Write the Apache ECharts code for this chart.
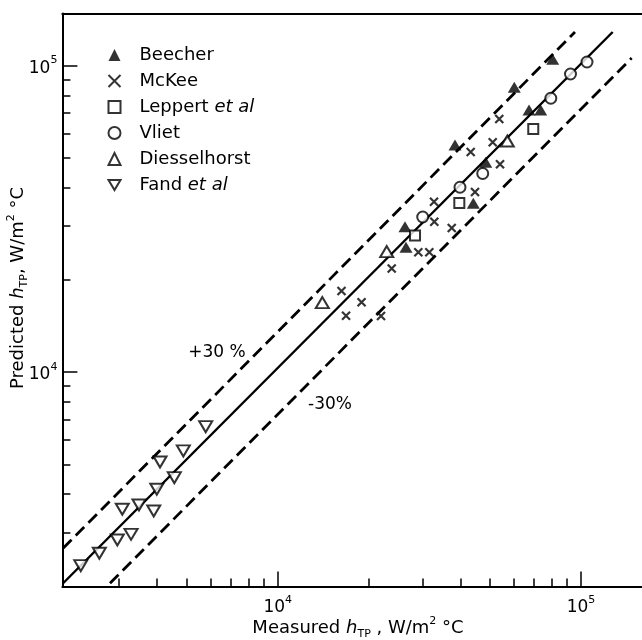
<!DOCTYPE html>
<html><head><meta charset="utf-8">
<script src="https://cdn.jsdelivr.net/npm/echarts@6/dist/echarts.min.js"></script>
<style>html,body{margin:0;padding:0;background:#fff}#c{width:642px;height:640px}</style>
</head><body><div id="c"></div>
<script>
// ---- axis ranges and ticks ----
const xRange = [1950, 160000];
const yRange = [2000, 148000];
const minorTicks = [3000,4000,5000,6000,7000,8000,9000,20000,30000,40000,50000,60000,70000,80000,90000];
const majorTicks = [10000, 100000];

// ---- data: [measured, predicted] in W/m2 °C ----
const beecher = [[80650,104900],[60260,85030],[67400,71730],[73640,71730],[38420,55120],[48520,48400],[44150,35570],[26280,29830],[26480,25560]];
const mckee = [[53770,67010],[43280,52290],[51160,56250],[54080,47720],[44720,38720],[32760,36000],[32830,30970],[37480,29540],[29080,24620],[31610,24620],[23760,21780],[16230,18400],[18900,16900],[16800,15290],[21910,15260]];
const leppert = [[69600,62170],[39700,35650],[28360,27920]];
const vliet = [[104660,102800],[92340,93950],[79520,78290],[47420,44490],[39900,40120],[30070,32090]];
const diesselhorst = [[14030,16860],[22880,24730],[57150,56800]];
const fand = [[2242,2337],[2581,2566],[2959,2835],[3284,2958],[3073,3570],[3488,3687],[3901,3525],[3993,4149],[4092,5093],[4561,4528],[4884,5533],[5788,6640]];

// reference lines (end points)
const lineEqual = [[1960,2048],[127200,128800]];
const linePlus30 = [[1960,2663],[95540,128800]];
const lineMinus30 = [[2799,2048],[146900,105900]];

const seriesNames = ['Beecher','McKee','Leppert et al','Vliet','Diesselhorst','Fand et al'];

const FONT = '"DejaVu Sans", sans-serif';
const chart = echarts.init(document.getElementById('c'), null, {renderer:'canvas'});

const expRich = {
  b:{fontSize:17,fontFamily:FONT,color:'#000',lineHeight:22,verticalAlign:'bottom'},
  s:{fontSize:11,fontFamily:FONT,color:'#000',lineHeight:11,verticalAlign:'top'}
};
const expFmt = v => '{b|10}{s|' + Math.round(Math.log10(v)) + '}';

function logAxis(extra, range){
  return Object.assign({
    type:'log', logBase:10, min:range[0], max:range[1], gridIndex:0,
    splitLine:{show:false}, minorSplitLine:{show:false},
    axisLine:{show:false}, axisTick:{show:false}, axisLabel:{show:false}
  }, extra);
}
const black = '#000';

const xAxes = [
  logAxis({position:'bottom', axisLine:{show:true,onZero:false,lineStyle:{color:black,width:2}},
    axisTick:{show:true,inside:true,length:8,customValues:minorTicks,lineStyle:{color:black,width:1.5}}}, xRange),
  logAxis({position:'bottom',
    axisTick:{show:true,inside:true,length:15,customValues:majorTicks,lineStyle:{color:black,width:1.5}},
    axisLabel:{show:true,customValues:majorTicks,margin:8,formatter:expFmt,rich:expRich}}, xRange),
  logAxis({position:'top', axisLine:{show:true,onZero:false,lineStyle:{color:black,width:2}}}, xRange)
];
const yAxes = [
  logAxis({position:'left', axisLine:{show:true,onZero:false,lineStyle:{color:black,width:2}},
    axisTick:{show:true,inside:true,length:8,customValues:minorTicks,lineStyle:{color:black,width:1.5}}}, yRange),
  logAxis({position:'left',
    axisTick:{show:true,inside:true,length:15,customValues:majorTicks,lineStyle:{color:black,width:1.5}},
    axisLabel:{show:true,customValues:majorTicks,margin:5,formatter:expFmt,rich:expRich}}, yRange)
];

function refLine(data, dashed){
  return {type:'line', data:data, xAxisIndex:0, yAxisIndex:0, symbol:'none', silent:true, z:2,
    lineStyle:{color:black, width:dashed?2.8:2.4, type:dashed?[12,6]:'solid', cap:'butt'}};
}
const openStyle = {color:'#fff', borderColor:black, borderWidth:2};
function scatter(name, data, symbol, size, style){
  return {type:'scatter', name:name, data:data, xAxisIndex:0, yAxisIndex:0, symbol:symbol,
    symbolSize:size, itemStyle:style, z:3};
}
const cross = 'path://M0,0L10,10M0,10L10,0';
const downTri = 'path://M0,0L12,0L6,10Z';

const option = {
  animation:false,
  backgroundColor:'#fff',
  grid:{left:62.4, top:13.5, width:580.5, height:572.9, outerBoundsMode:'none', containLabel:false},
  xAxis:xAxes,
  yAxis:yAxes,
  legend:{
    data:seriesNames, orient:'vertical', left:101, top:41, itemWidth:12, itemHeight:12, itemGap:8,
    selectedMode:false,
    textStyle:{fontSize:18, fontFamily:FONT, color:black, padding:[0,0,0,14],
      rich:{i:{fontStyle:'italic', fontSize:18, fontFamily:FONT, color:black}}},
    formatter: n => n.endsWith(' et al') ? n.slice(0,-6) + ' {i|et al}' : n
  },
  series:[
    refLine(lineEqual,false),
    refLine(linePlus30,true),
    refLine(lineMinus30,true),
    scatter('Beecher', beecher, 'triangle', [13,11], {color:black}),
    scatter('McKee', mckee, cross, 8, {color:'none', borderColor:black, borderWidth:2.2}),
    scatter('Leppert et al', leppert, 'rect', 10, openStyle),
    scatter('Vliet', vliet, 'circle', 11, openStyle),
    scatter('Diesselhorst', diesselhorst, 'triangle', [13,11], openStyle),
    scatter('Fand et al', fand, downTri, [13,11], openStyle)
  ],
  graphic:[
    {type:'text', x:217, y:353, silent:true,
      style:{text:'+30 %', font:'17px '+FONT, fill:black, align:'center', verticalAlign:'middle'}},
    {type:'text', x:330, y:405, silent:true,
      style:{text:'-30%', font:'17px '+FONT, fill:black, align:'center', verticalAlign:'middle'}},
    {type:'text', x:358, y:628, silent:true,
      style:{text:'{n|Measured }{i|h}{sub|TP}{n| , W/m}{sup|2}{n| °C}', align:'center', verticalAlign:'middle',
        rich:{
          n:{fontSize:18,fontFamily:FONT,fill:black,lineHeight:24,verticalAlign:'middle'},
          i:{fontSize:18,fontFamily:FONT,fontStyle:'italic',fill:black,lineHeight:24,verticalAlign:'middle'},
          sub:{fontSize:11,fontFamily:FONT,fill:black,lineHeight:11,verticalAlign:'bottom'},
          sup:{fontSize:11,fontFamily:FONT,fill:black,lineHeight:11,verticalAlign:'top'}
        }}},
    {type:'text', x:18, y:288, rotation:Math.PI/2, silent:true,
      style:{text:'{n|Predicted }{i|h}{sub|TP}{n|, W/m}{sup|2}{n| °C}', align:'center', verticalAlign:'middle',
        rich:{
          n:{fontSize:18,fontFamily:FONT,fill:black,lineHeight:24,verticalAlign:'middle'},
          i:{fontSize:18,fontFamily:FONT,fontStyle:'italic',fill:black,lineHeight:24,verticalAlign:'middle'},
          sub:{fontSize:11,fontFamily:FONT,fill:black,lineHeight:11,verticalAlign:'bottom'},
          sup:{fontSize:11,fontFamily:FONT,fill:black,lineHeight:11,verticalAlign:'top'}
        }}}
  ]
};
chart.setOption(option);
</script></body></html>
